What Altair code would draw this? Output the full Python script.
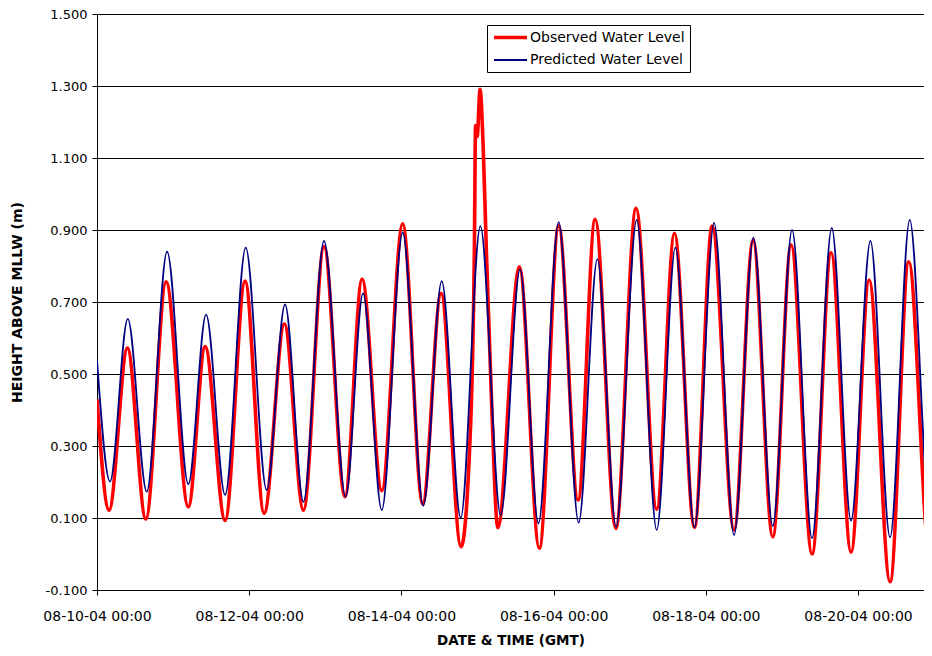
import altair as alt
import pandas as pd

SERIES = ["Observed Water Level", "Predicted Water Level"]
COLORS = ["#ff0000", "#000080"]
WIDTHS = [3.6, 1.8]

# hours after 08-10-04 00:00 GMT at the highs and lows
pred_hours = [0.0, 4.1, 9.7, 15.7, 22.1, 28.8, 34.4, 40.4, 46.9, 53.5, 59.3, 65.1,
              71.6, 78.4, 83.9, 89.8, 96.4, 102.9, 108.7, 114.7, 120.9, 127.3, 133.4,
              139.2, 145.6, 151.9, 157.8, 163.7, 170.2, 176.5, 182.4, 188.4, 194.6,
              200.9, 207.0, 213.1, 219.2, 225.5, 231.7, 237.8, 243.9, 250.1, 256.3,
              262.7, 263.3]
pred_level = [0.54, 0.201, 0.653, 0.173, 0.84, 0.194, 0.665, 0.164, 0.851, 0.178,
              0.693, 0.145, 0.870, 0.159, 0.724, 0.122, 0.893, 0.134, 0.758, 0.101,
              0.911, 0.108, 0.791, 0.085, 0.922, 0.087, 0.819, 0.076, 0.928, 0.067,
              0.851, 0.074, 0.920, 0.053, 0.879, 0.078, 0.900, 0.044, 0.906, 0.093,
              0.870, 0.046, 0.928, 0.111, 0.115]

obs_hours = [0.0, 3.8, 9.6, 15.4, 21.8, 28.8, 34.1, 40.4, 46.7, 52.7, 59.1, 65.1,
             71.6, 78.2, 83.6, 89.8, 96.4, 102.7, 108.5, 114.8, 117.5, 119.0, 119.4,
             119.9, 120.8, 121.8, 122.8, 124.4, 126.4, 133.2, 139.5, 145.6, 151.7,
             157.1, 163.6, 170.0, 176.5, 182.1, 188.4, 194.0, 200.9, 206.9, 213.1,
             218.9, 225.5, 231.5, 237.8, 243.5, 250.1, 256.0, 262.7, 263.3]
obs_level = [0.43, 0.122, 0.572, 0.097, 0.756, 0.131, 0.576, 0.093, 0.758, 0.113,
             0.639, 0.122, 0.854, 0.159, 0.764, 0.176, 0.917, 0.139, 0.724, 0.020,
             0.29, 0.84, 1.19, 1.16, 1.291, 1.127, 0.84, 0.43, 0.073, 0.798, 0.016,
             0.912, 0.150, 0.930, 0.071, 0.960, 0.124, 0.891, 0.074, 0.911, 0.067,
             0.872, 0.048, 0.858, 0.000, 0.837, 0.005, 0.761, -0.077, 0.812, -0.012,
             -0.010]

y_ticks = [-0.1, 0.1, 0.3, 0.5, 0.7, 0.9, 1.1, 1.3, 1.5]
x_tick_days = [10, 12, 14, 16, 18, 20]

start = pd.Timestamp("2004-08-10 00:00", tz="UTC")


def frame(hours, levels, name):
    t = start + pd.to_timedelta(hours, unit="h")
    return pd.DataFrame({
        "time": [x.strftime("%Y-%m-%dT%H:%M:%SZ") for x in t],
        "level": levels,
        "series": name,
    })


df = pd.concat([frame(obs_hours, obs_level, SERIES[0]),
                frame(pred_hours, pred_level, SERIES[1])], ignore_index=True)

FONT = "DejaVu Sans"

legend = alt.Legend(
    title=None, orient="none", legendX=390, legendY=11, direction="vertical",
    strokeColor="#000000", fillColor="#ffffff", padding=5, cornerRadius=0,
    labelFont=FONT, labelFontSize=14, labelColor="#000000", labelLimit=0,
    symbolType="M-3,0H3", symbolSize=121, symbolOffset=11, labelOffset=12,
    rowPadding=8,
)

x_axis = alt.Axis(
    values=[alt.DateTime(year=2004, month=8, date=d, utc=True) for d in x_tick_days],
    labelExpr="utcFormat(datum.value, '%m-%d-%y %H:%M')",
    labelAlign="center", labelFlush=False, labelOverlap=False,
    grid=False, domainColor="#000000", tickColor="#000000", tickSize=5,
    labelFont=FONT, labelFontSize=14, labelColor="#000000", labelPadding=14,
    title="DATE & TIME (GMT)", titleFont=FONT, titleFontSize=13.5,
    titleFontWeight="bold", titleColor="#000000", titleY=50, titleBaseline="middle",
)

y_axis = alt.Axis(
    values=y_ticks,
    labelExpr="replace(format(datum.value, '.3f'), '\u2212', '-')",
    grid=True, gridColor="#000000", gridWidth=1,
    domainColor="#000000", tickColor="#000000", tickSize=5,
    labelFont=FONT, labelFontSize=13, labelColor="#000000", labelPadding=5,
    title="HEIGHT ABOVE MLLW (m)", titleFont=FONT, titleFontSize=14,
    titleFontWeight="bold", titleColor="#000000", titleX=-80, titleY=288,
    titleBaseline="middle",
)

chart = alt.Chart(df).mark_line(interpolate="monotone", clip=True).encode(
    x=alt.X("time:T", axis=x_axis,
            scale=alt.Scale(type="utc",
                            domain=[alt.DateTime(year=2004, month=8, date=10, utc=True),
                                    alt.DateTime(year=2004, month=8, date=20, hours=20,
                                                 minutes=48, utc=True)])),
    y=alt.Y("level:Q", axis=y_axis, scale=alt.Scale(domain=[-0.1, 1.5], nice=False, zero=False)),
    color=alt.Color("series:N", scale=alt.Scale(domain=SERIES, range=COLORS), legend=legend),
    strokeWidth=alt.StrokeWidth("series:N", scale=alt.Scale(domain=SERIES, range=WIDTHS), legend=legend),
).properties(
    width=827, height=576,
    autosize=alt.AutoSizeParams(type="none"),
    padding={"left": 89, "top": 6, "right": 0, "bottom": 58},
).configure_view(stroke=None).configure(background="#ffffff")

chart.save("out.html", embed_options={"renderer": "svg", "actions": False})
